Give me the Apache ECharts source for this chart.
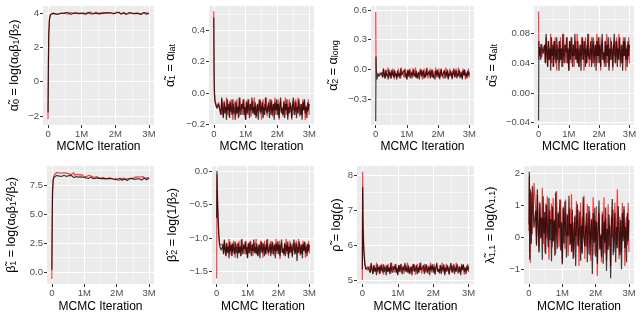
<!DOCTYPE html>
<html>
<head>
<meta charset="utf-8">
<script src="https://cdn.jsdelivr.net/npm/echarts@6/dist/echarts.min.js"></script>
<style>html,body{margin:0;padding:0;background:#fff}#chart{width:640px;height:320px}</style>
</head>
<body>
<div id="chart"></div>
<script>
// MCMC iteration (millions) at which each trace value is read
var iters = [0, 0.01, 0.02, 0.04, 0.07, 0.1, 0.15,
  0.2, 0.225, 0.25, 0.275, 0.3, 0.325, 0.35, 0.375, 0.4, 0.425,
  0.45, 0.475, 0.5, 0.525, 0.55, 0.575, 0.6, 0.625, 0.65, 0.675,
  0.7, 0.725, 0.75, 0.775, 0.8, 0.825, 0.85, 0.875, 0.9, 0.925,
  0.95, 0.975, 1.0, 1.025, 1.05, 1.075, 1.1, 1.125, 1.15, 1.175,
  1.2, 1.225, 1.25, 1.275, 1.3, 1.325, 1.35, 1.375, 1.4, 1.425,
  1.45, 1.475, 1.5, 1.525, 1.55, 1.575, 1.6, 1.625, 1.65, 1.675,
  1.7, 1.725, 1.75, 1.775, 1.8, 1.825, 1.85, 1.875, 1.9, 1.925,
  1.95, 1.975, 2.0, 2.025, 2.05, 2.075, 2.1, 2.125, 2.15, 2.175,
  2.2, 2.225, 2.25, 2.275, 2.3, 2.325, 2.35, 2.375, 2.4, 2.425,
  2.45, 2.475, 2.5, 2.525, 2.55, 2.575, 2.6, 2.625, 2.65, 2.675,
  2.7, 2.725, 2.75, 2.775, 2.8, 2.825, 2.85, 2.875, 2.9, 2.925,
  2.95, 2.975, 3.0];
var xTicks = [0, 1, 2, 3];
var xTickLabels = ['0', '1M', '2M', '3M'];

var alpha0Red = [-2.2, 0.4, 2.6, 3.6, 3.92, 3.98, 4.01,
  4.03, 3.97, 4.06, 4.00, 3.96, 4.05, 4.01, 3.99, 4.07, 3.97,
  4.02, 3.96, 4.05, 3.99, 4.06, 4.00, 3.95, 4.03, 4.01, 4.05,
  3.97, 4.06, 3.99, 4.02, 3.96, 4.07, 4.00, 4.03, 3.97, 4.01,
  4.06, 3.99, 3.95, 4.05, 4.02, 3.97, 4.06, 4.00, 4.03, 3.96,
  4.01, 4.05, 3.99, 4.07, 3.97, 4.02, 3.96, 4.03, 4.00, 4.06,
  3.99, 4.05, 3.95, 4.01, 4.06, 3.97, 4.03, 4.00, 4.07, 3.96,
  4.02, 3.99, 4.06, 3.97, 4.01, 4.05, 3.96, 4.03, 4.00, 4.07,
  3.97, 4.03, 4.00, 4.06, 3.95, 4.02, 4.05, 3.99, 4.01, 3.96,
  4.05, 4.00, 4.07, 3.97, 4.03, 3.96, 4.01, 4.06, 3.99, 4.02,
  3.95, 4.03, 4.00, 4.05, 3.97, 4.06, 4.02, 3.99, 4.07, 4.00,
  3.96, 4.03, 4.01, 3.97, 4.06, 4.00, 4.05, 3.95, 4.02, 4.03,
  3.99, 4.06, 3.97];
var alpha0Black = [-1.8, 0.9, 2.8, 3.65, 3.93, 3.99, 4.00,
  4.02, 3.96, 4.06, 4.00, 3.95, 4.04, 3.98, 4.01, 3.94, 4.05,
  3.99, 4.02, 3.95, 4.04, 4.00, 3.96, 4.05, 3.98, 4.01, 3.94,
  4.04, 3.98, 4.01, 3.95, 4.06, 3.99, 3.96, 4.02, 4.00, 4.05,
  3.96, 4.01, 3.94, 4.04, 3.98, 4.05, 4.00, 3.95, 4.02, 3.99,
  4.06, 3.98, 4.01, 3.96, 4.04, 3.95, 3.99, 4.02, 3.94, 4.01,
  4.05, 3.98, 4.00, 4.04, 3.95, 4.01, 3.96, 4.06, 3.99, 3.98,
  3.98, 4.04, 3.95, 4.01, 4.05, 3.96, 4.00, 4.02, 3.94, 4.04,
  3.99, 4.05, 3.96, 4.02, 3.95, 4.01, 4.06, 3.98, 4.00, 3.96,
  4.04, 3.95, 4.02, 3.99, 4.05, 3.94, 4.01, 3.98, 4.04, 4.00,
  3.95, 4.02, 4.06, 3.96, 3.99, 4.04, 3.95, 4.01, 3.98, 4.05,
  4.00, 3.96, 4.02, 3.94, 4.04, 3.99, 4.05, 3.98, 4.01, 3.95,
  4.04, 3.99, 4.02];

var alpha1Red = [0.52, 0.18, 0.02, -0.05, -0.07, -0.09, -0.06,
  -0.07, -0.14, -0.04, -0.11, -0.15, -0.05, -0.09, -0.12, -0.03, -0.14,
  -0.08, -0.15, -0.05, -0.12, -0.04, -0.11, -0.17, -0.07, -0.09, -0.05,
  -0.14, -0.04, -0.12, -0.08, -0.15, -0.03, -0.11, -0.07, -0.14, -0.09,
  -0.04, -0.12, -0.17, -0.05, -0.08, -0.14, -0.04, -0.11, -0.07, -0.15,
  -0.09, -0.05, -0.12, -0.03, -0.14, -0.08, -0.15, -0.07, -0.11, -0.04,
  -0.12, -0.05, -0.17, -0.09, -0.04, -0.14, -0.07, -0.11, -0.03, -0.15,
  -0.08, -0.12, -0.04, -0.14, -0.09, -0.05, -0.15, -0.07, -0.11, -0.03,
  -0.14, -0.07, -0.11, -0.04, -0.17, -0.08, -0.05, -0.12, -0.09, -0.15,
  -0.05, -0.11, -0.03, -0.14, -0.07, -0.15, -0.09, -0.04, -0.12, -0.08,
  -0.17, -0.07, -0.11, -0.05, -0.14, -0.04, -0.08, -0.12, -0.03, -0.11,
  -0.15, -0.07, -0.09, -0.14, -0.04, -0.11, -0.05, -0.17, -0.08, -0.07,
  -0.12, -0.04, -0.14];
var alpha1Black = [0.48, 0.12, -0.01, -0.06, -0.08, -0.10, -0.07,
  -0.07, -0.14, -0.03, -0.10, -0.16, -0.06, -0.13, -0.09, -0.17, -0.04,
  -0.11, -0.07, -0.16, -0.06, -0.10, -0.14, -0.04, -0.13, -0.09, -0.17,
  -0.06, -0.13, -0.09, -0.16, -0.03, -0.11, -0.14, -0.07, -0.10, -0.04,
  -0.14, -0.09, -0.17, -0.06, -0.13, -0.04, -0.10, -0.16, -0.07, -0.11,
  -0.03, -0.13, -0.09, -0.14, -0.06, -0.16, -0.11, -0.07, -0.17, -0.09,
  -0.04, -0.13, -0.10, -0.06, -0.16, -0.09, -0.14, -0.03, -0.11, -0.13,
  -0.13, -0.06, -0.16, -0.09, -0.04, -0.14, -0.10, -0.07, -0.17, -0.06,
  -0.11, -0.04, -0.14, -0.07, -0.16, -0.09, -0.03, -0.13, -0.10, -0.14,
  -0.06, -0.16, -0.07, -0.11, -0.04, -0.17, -0.09, -0.13, -0.06, -0.10,
  -0.16, -0.07, -0.03, -0.14, -0.11, -0.06, -0.16, -0.09, -0.13, -0.04,
  -0.10, -0.14, -0.07, -0.17, -0.06, -0.11, -0.04, -0.13, -0.09, -0.16,
  -0.06, -0.11, -0.07];

var alpha2Red = [0.58, 0.05, -0.03, -0.05, -0.02, -0.06, -0.03,
  -0.02, -0.08, 0.01, -0.05, -0.09, 0.00, -0.04, -0.06, 0.02, -0.08,
  -0.03, -0.09, 0.00, -0.06, 0.01, -0.05, -0.10, -0.02, -0.04, 0.00,
  -0.08, 0.01, -0.06, -0.03, -0.09, 0.02, -0.05, -0.02, -0.08, -0.04,
  0.01, -0.06, -0.10, 0.00, -0.03, -0.08, 0.01, -0.05, -0.02, -0.09,
  -0.04, 0.00, -0.06, 0.02, -0.08, -0.03, -0.09, -0.02, -0.05, 0.01,
  -0.06, 0.00, -0.10, -0.04, 0.01, -0.08, -0.02, -0.05, 0.02, -0.09,
  -0.03, -0.06, 0.01, -0.08, -0.04, 0.00, -0.09, -0.02, -0.05, 0.02,
  -0.08, -0.02, -0.05, 0.01, -0.10, -0.03, 0.00, -0.06, -0.04, -0.09,
  0.00, -0.05, 0.02, -0.08, -0.02, -0.09, -0.04, 0.01, -0.06, -0.03,
  -0.10, -0.02, -0.05, 0.00, -0.08, 0.01, -0.03, -0.06, 0.02, -0.05,
  -0.09, -0.02, -0.04, -0.08, 0.01, -0.05, 0.00, -0.10, -0.03, -0.02,
  -0.06, 0.01, -0.08];
var alpha2Black = [-0.52, 0.13, -0.06, -0.10, -0.04, -0.07, -0.05,
  -0.03, -0.08, 0.01, -0.05, -0.09, -0.01, -0.07, -0.04, -0.10, 0.00,
  -0.06, -0.03, -0.09, -0.01, -0.05, -0.08, 0.00, -0.07, -0.04, -0.10,
  -0.01, -0.07, -0.04, -0.09, 0.01, -0.06, -0.08, -0.03, -0.05, 0.00,
  -0.08, -0.04, -0.10, -0.01, -0.07, 0.00, -0.05, -0.09, -0.03, -0.06,
  0.01, -0.07, -0.04, -0.08, -0.01, -0.09, -0.06, -0.03, -0.10, -0.04,
  0.00, -0.07, -0.05, -0.01, -0.09, -0.04, -0.08, 0.01, -0.06, -0.07,
  -0.07, -0.01, -0.09, -0.04, 0.00, -0.08, -0.05, -0.03, -0.10, -0.01,
  -0.06, 0.00, -0.08, -0.03, -0.09, -0.04, 0.01, -0.07, -0.05, -0.08,
  -0.01, -0.09, -0.03, -0.06, 0.00, -0.10, -0.04, -0.07, -0.01, -0.05,
  -0.09, -0.03, 0.01, -0.08, -0.06, -0.01, -0.09, -0.04, -0.07, 0.00,
  -0.05, -0.08, -0.03, -0.10, -0.01, -0.06, 0.00, -0.07, -0.04, -0.09,
  -0.01, -0.06, -0.03];

var alpha3Red = [0.110, 0.045, 0.060, 0.052, 0.066, 0.048, 0.058,
  0.065, 0.040, 0.075, 0.050, 0.035, 0.070, 0.055, 0.045, 0.080, 0.040,
  0.060, 0.035, 0.070, 0.045, 0.075, 0.050, 0.030, 0.065, 0.055, 0.070,
  0.040, 0.075, 0.045, 0.060, 0.035, 0.080, 0.050, 0.065, 0.040, 0.055,
  0.075, 0.045, 0.030, 0.070, 0.060, 0.040, 0.075, 0.050, 0.065, 0.035,
  0.055, 0.070, 0.045, 0.080, 0.040, 0.060, 0.035, 0.065, 0.050, 0.075,
  0.045, 0.070, 0.030, 0.055, 0.075, 0.040, 0.065, 0.050, 0.080, 0.035,
  0.060, 0.045, 0.075, 0.040, 0.055, 0.070, 0.035, 0.065, 0.050, 0.080,
  0.040, 0.065, 0.050, 0.075, 0.030, 0.060, 0.070, 0.045, 0.055, 0.035,
  0.070, 0.050, 0.080, 0.040, 0.065, 0.035, 0.055, 0.075, 0.045, 0.060,
  0.030, 0.065, 0.050, 0.070, 0.040, 0.075, 0.060, 0.045, 0.080, 0.050,
  0.035, 0.065, 0.055, 0.040, 0.075, 0.050, 0.070, 0.030, 0.060, 0.065,
  0.045, 0.075, 0.040];
var alpha3Black = [-0.037, 0.070, 0.050, 0.062, 0.045, 0.066, 0.053,
  0.065, 0.040, 0.080, 0.055, 0.035, 0.070, 0.045, 0.060, 0.030, 0.075,
  0.050, 0.065, 0.035, 0.070, 0.055, 0.040, 0.075, 0.045, 0.060, 0.030,
  0.070, 0.045, 0.060, 0.035, 0.080, 0.050, 0.040, 0.065, 0.055, 0.075,
  0.040, 0.060, 0.030, 0.070, 0.045, 0.075, 0.055, 0.035, 0.065, 0.050,
  0.080, 0.045, 0.060, 0.040, 0.070, 0.035, 0.050, 0.065, 0.030, 0.060,
  0.075, 0.045, 0.055, 0.070, 0.035, 0.060, 0.040, 0.080, 0.050, 0.045,
  0.045, 0.070, 0.035, 0.060, 0.075, 0.040, 0.055, 0.065, 0.030, 0.070,
  0.050, 0.075, 0.040, 0.065, 0.035, 0.060, 0.080, 0.045, 0.055, 0.040,
  0.070, 0.035, 0.065, 0.050, 0.075, 0.030, 0.060, 0.045, 0.070, 0.055,
  0.035, 0.065, 0.080, 0.040, 0.050, 0.070, 0.035, 0.060, 0.045, 0.075,
  0.055, 0.040, 0.065, 0.030, 0.070, 0.050, 0.075, 0.045, 0.060, 0.035,
  0.070, 0.050, 0.065];

var beta1Red = [-0.6, 3.5, 6.6, 7.9, 8.35, 8.5, 8.58,
  8.64, 8.54, 8.68, 8.58, 8.52, 8.66, 8.60, 8.56, 8.70, 8.54,
  8.52, 8.42, 8.56, 8.46, 8.58, 8.48, 8.40, 8.54, 8.50, 8.56,
  8.34, 8.48, 8.36, 8.42, 8.32, 8.50, 8.38, 8.44, 8.34, 8.40,
  8.38, 8.26, 8.20, 8.36, 8.32, 8.24, 8.38, 8.28, 8.34, 8.22,
  8.20, 8.26, 8.16, 8.30, 8.14, 8.22, 8.12, 8.24, 8.18, 8.28,
  8.06, 8.16, 8.00, 8.10, 8.18, 8.04, 8.14, 8.08, 8.20, 8.02,
  8.04, 7.98, 8.10, 7.96, 8.02, 8.08, 7.94, 8.06, 8.00, 8.12,
  7.94, 8.04, 7.98, 8.08, 7.90, 8.02, 8.06, 7.96, 8.00, 7.92,
  8.11, 8.03, 8.15, 7.99, 8.09, 7.97, 8.05, 8.13, 8.01, 8.07,
  8.00, 8.14, 8.08, 8.16, 8.04, 8.18, 8.12, 8.06, 8.20, 8.08,
  8.07, 8.19, 8.15, 8.09, 8.23, 8.13, 8.21, 8.05, 8.17, 8.19,
  8.14, 8.26, 8.12];
var beta1Black = [0.2, 4.2, 7.0, 8.0, 8.2, 8.3, 8.33,
  8.36, 8.26, 8.42, 8.32, 8.24, 8.38, 8.28, 8.34, 8.22, 8.40,
  8.23, 8.29, 8.17, 8.31, 8.25, 8.19, 8.33, 8.21, 8.27, 8.15,
  8.26, 8.16, 8.22, 8.12, 8.30, 8.18, 8.14, 8.24, 8.20, 8.28,
  8.09, 8.17, 8.05, 8.21, 8.11, 8.23, 8.15, 8.07, 8.19, 8.13,
  8.20, 8.06, 8.12, 8.04, 8.16, 8.02, 8.08, 8.14, 8.00, 8.12,
  8.13, 8.01, 8.05, 8.11, 7.97, 8.07, 7.99, 8.15, 8.03, 8.01,
  7.96, 8.06, 7.92, 8.02, 8.08, 7.94, 8.00, 8.04, 7.90, 8.06,
  7.96, 8.06, 7.92, 8.02, 7.90, 8.00, 8.08, 7.94, 7.98, 7.92,
  8.05, 7.91, 8.03, 7.97, 8.07, 7.89, 8.01, 7.95, 8.05, 7.99,
  7.93, 8.05, 8.11, 7.95, 7.99, 8.07, 7.93, 8.03, 7.97, 8.09,
  8.03, 7.97, 8.07, 7.93, 8.09, 8.01, 8.11, 7.99, 8.05, 7.95,
  8.11, 8.03, 8.09];

var beta2Red = [-1.6, -0.05, -0.3, -0.65, -0.98, -1.1, -1.08,
  -1.09, -1.23, -1.04, -1.18, -1.26, -1.07, -1.15, -1.21, -1.01, -1.23,
  -1.12, -1.26, -1.07, -1.21, -1.04, -1.18, -1.29, -1.09, -1.15, -1.07,
  -1.23, -1.04, -1.21, -1.12, -1.26, -1.01, -1.18, -1.09, -1.23, -1.15,
  -1.04, -1.21, -1.29, -1.07, -1.12, -1.23, -1.04, -1.18, -1.09, -1.26,
  -1.15, -1.07, -1.21, -1.01, -1.23, -1.12, -1.26, -1.09, -1.18, -1.04,
  -1.21, -1.07, -1.29, -1.15, -1.04, -1.23, -1.09, -1.18, -1.01, -1.26,
  -1.12, -1.21, -1.04, -1.23, -1.15, -1.07, -1.26, -1.09, -1.18, -1.01,
  -1.23, -1.09, -1.18, -1.04, -1.31, -1.12, -1.07, -1.21, -1.15, -1.26,
  -1.07, -1.18, -1.01, -1.23, -1.09, -1.26, -1.15, -1.04, -1.21, -1.12,
  -1.29, -1.09, -1.18, -1.07, -1.23, -1.04, -1.12, -1.21, -1.01, -1.18,
  -1.26, -1.09, -1.15, -1.23, -1.04, -1.18, -1.07, -1.29, -1.12, -1.09,
  -1.21, -1.04, -1.23];
var beta2Black = [-0.7, 0.0, -0.25, -0.6, -0.95, -1.12, -1.18,
  -1.10, -1.24, -1.02, -1.16, -1.27, -1.08, -1.22, -1.13, -1.30, -1.05,
  -1.19, -1.10, -1.27, -1.08, -1.16, -1.24, -1.05, -1.22, -1.13, -1.30,
  -1.08, -1.22, -1.13, -1.27, -1.02, -1.19, -1.24, -1.10, -1.16, -1.05,
  -1.24, -1.13, -1.30, -1.08, -1.22, -1.05, -1.16, -1.27, -1.10, -1.19,
  -1.02, -1.22, -1.13, -1.24, -1.08, -1.27, -1.19, -1.10, -1.30, -1.13,
  -1.05, -1.22, -1.16, -1.08, -1.27, -1.13, -1.24, -1.02, -1.19, -1.22,
  -1.22, -1.08, -1.27, -1.13, -1.05, -1.24, -1.16, -1.10, -1.30, -1.08,
  -1.19, -1.05, -1.24, -1.10, -1.27, -1.13, -1.02, -1.22, -1.16, -1.24,
  -1.08, -1.27, -1.10, -1.19, -1.05, -1.30, -1.13, -1.22, -1.08, -1.16,
  -1.27, -1.10, -1.02, -1.24, -1.19, -1.08, -1.34, -1.13, -1.22, -1.05,
  -1.16, -1.24, -1.10, -1.30, -1.08, -1.19, -1.05, -1.22, -1.13, -1.27,
  -1.08, -1.19, -1.10];

var rhoRed = [5.0, 8.1, 6.8, 6.0, 5.5, 5.35, 5.28,
  5.39, 5.22, 5.46, 5.29, 5.18, 5.43, 5.32, 5.25, 5.50, 5.22,
  5.36, 5.18, 5.43, 5.25, 5.46, 5.29, 5.15, 5.39, 5.32, 5.43,
  5.22, 5.46, 5.25, 5.36, 5.18, 5.50, 5.29, 5.39, 5.22, 5.32,
  5.46, 5.25, 5.15, 5.43, 5.36, 5.22, 5.46, 5.29, 5.39, 5.18,
  5.32, 5.43, 5.25, 5.50, 5.22, 5.36, 5.18, 5.39, 5.29, 5.46,
  5.25, 5.43, 5.15, 5.32, 5.46, 5.22, 5.39, 5.29, 5.50, 5.18,
  5.36, 5.25, 5.46, 5.22, 5.32, 5.43, 5.18, 5.39, 5.29, 5.50,
  5.22, 5.39, 5.29, 5.46, 5.15, 5.36, 5.43, 5.25, 5.32, 5.18,
  5.43, 5.29, 5.50, 5.22, 5.39, 5.18, 5.32, 5.46, 5.25, 5.36,
  5.15, 5.39, 5.29, 5.43, 5.22, 5.46, 5.36, 5.25, 5.50, 5.29,
  5.18, 5.39, 5.32, 5.22, 5.46, 5.29, 5.43, 5.15, 5.36, 5.39,
  5.25, 5.46, 5.22];
var rhoBlack = [5.3, 7.65, 6.5, 5.85, 5.45, 5.3, 5.38,
  5.38, 5.21, 5.49, 5.31, 5.17, 5.42, 5.24, 5.35, 5.14, 5.45,
  5.28, 5.38, 5.17, 5.42, 5.31, 5.21, 5.45, 5.24, 5.35, 5.14,
  5.42, 5.24, 5.35, 5.17, 5.49, 5.28, 5.21, 5.38, 5.31, 5.45,
  5.21, 5.35, 5.14, 5.42, 5.24, 5.45, 5.31, 5.17, 5.38, 5.28,
  5.49, 5.24, 5.35, 5.21, 5.42, 5.17, 5.28, 5.38, 5.14, 5.35,
  5.45, 5.24, 5.31, 5.42, 5.17, 5.35, 5.21, 5.49, 5.28, 5.24,
  5.24, 5.42, 5.17, 5.35, 5.45, 5.21, 5.31, 5.38, 5.14, 5.42,
  5.28, 5.45, 5.21, 5.38, 5.17, 5.35, 5.49, 5.24, 5.31, 5.21,
  5.42, 5.17, 5.38, 5.28, 5.45, 5.14, 5.35, 5.24, 5.42, 5.31,
  5.17, 5.38, 5.49, 5.21, 5.28, 5.42, 5.17, 5.35, 5.24, 5.45,
  5.31, 5.21, 5.38, 5.14, 5.42, 5.28, 5.45, 5.24, 5.35, 5.17,
  5.42, 5.28, 5.38];

var lambdaRed = [0.2, 1.9, 0.6, -0.8, 1.4, 0.1, 1.7,
  0.89, -0.21, 1.33, 0.23, -0.43, 1.11, 0.45, 0.01, 1.55, -0.21,
  0.62, -0.48, 1.06, -0.04, 1.28, 0.18, -0.70, 0.84, 0.40, 1.06,
  -0.31, 1.23, -0.09, 0.57, -0.53, 1.45, 0.13, 0.79, -0.31, 0.35,
  1.18, -0.14, -0.80, 0.96, 0.52, -0.36, 1.18, 0.08, 0.74, -0.58,
  0.25, 0.91, -0.19, 1.35, -0.41, 0.47, -0.63, 0.69, 0.03, 1.13,
  -0.24, 0.86, -0.90, 0.20, 1.08, -0.46, 0.64, -0.02, 1.30, -0.68,
  0.37, -0.29, 1.03, -0.51, 0.15, 0.81, -0.73, 0.59, -0.07, 1.25,
  -0.56, 0.54, -0.12, 0.98, -1.20, 0.32, 0.76, -0.34, 0.10, -0.78,
  0.81, -0.07, 1.25, -0.51, 0.59, -0.73, 0.15, 1.03, -0.29, 0.37,
  -0.90, 0.64, -0.02, 0.86, -0.46, 1.08, 0.42, -0.24, 1.50, -0.02,
  -0.68, 0.64, 0.20, -0.46, 1.08, -0.02, 0.86, -0.90, 0.42, 0.64,
  -0.24, 1.08, -0.46];
var lambdaBlack = [0.4, 2.05, -0.7, 1.5, -0.2, 1.6, 0.3,
  0.84, -0.26, 1.50, 0.40, -0.48, 1.06, -0.04, 0.62, -0.70, 1.28,
  0.13, 0.79, -0.53, 1.01, 0.35, -0.31, 1.23, -0.09, 0.57, -0.75,
  0.96, -0.14, 0.52, -0.58, 1.40, 0.08, -0.36, 0.74, 0.30, 1.18,
  -0.41, 0.47, -0.85, 0.91, -0.19, 1.13, 0.25, -0.63, 0.69, 0.03,
  1.30, -0.24, 0.42, -0.46, 0.86, -0.68, -0.02, 0.64, -0.90, 0.42,
  1.03, -0.29, 0.15, 0.81, -0.73, 0.37, -0.51, 1.25, -0.07, -0.29,
  -0.34, 0.76, -0.78, 0.32, 0.98, -0.56, 0.10, 0.54, -1.15, 0.76,
  -0.17, 0.93, -0.61, 0.49, -0.83, 0.27, 1.15, -0.39, 0.05, -0.61,
  0.71, -0.83, 0.49, -0.17, 0.93, -1.05, 0.27, -0.39, 0.71, 0.05,
  -1.28, 0.54, 1.20, -0.56, -0.12, 0.76, -0.78, 0.32, -0.34, 0.98,
  0.10, -0.56, 0.54, -1.00, 0.76, -0.12, 0.98, -0.34, 0.32, -0.78,
  0.76, -0.12, 0.54];

var alpha0Ticks = [-2, 0, 2, 4];
var alpha1Ticks = [-0.2, 0, 0.2, 0.4];
var alpha2Ticks = [-0.3, 0, 0.3, 0.6];
var alpha3Ticks = [-0.04, 0, 0.04, 0.08];
var beta1Ticks = [0, 2.5, 5, 7.5];
var beta2Ticks = [-1.5, -1, -0.5, 0];
var rhoTicks = [5, 6, 7, 8];
var lambdaTicks = [-1, 0, 1, 2];

var panels = [
  {box: [43, 6, 111, 119], y: [-2.53, 4.43], ticks: alpha0Ticks, minor: [-1, 1, 3], dec: 0, gap: 22,
   name: '{t|α̃}{s|0}{t| = log(α}{s|0}{t|β}{s|1}{t|/β}{s|2}{t|)}', red: alpha0Red, black: alpha0Black},
  {box: [209, 6, 105, 119], y: [-0.204, 0.553], ticks: alpha1Ticks, minor: [-0.1, 0.1, 0.3, 0.5], dec: 1, gap: 32,
   name: '{t|α̃}{s|1}{t| = α}{s|lat}', red: alpha1Red, black: alpha1Black},
  {box: [371, 6, 103, 119], y: [-0.559, 0.64], ticks: alpha2Ticks, minor: [-0.45, -0.15, 0.15, 0.45], dec: 1, gap: 31,
   name: '{t|α̃}{s|2}{t| = α}{s|long}', red: alpha2Red, black: alpha2Black},
  {box: [534, 6, 100, 119], y: [-0.0431, 0.1173], ticks: alpha3Ticks, minor: [-0.02, 0.02, 0.06, 0.1], dec: 2, gap: 35,
   name: '{t|α̃}{s|3}{t| = α}{s|alt}', red: alpha3Red, black: alpha3Black},
  {box: [47, 166, 107, 118], y: [-1.03, 9.14], ticks: beta1Ticks, minor: [1.25, 3.75, 6.25, 8.75], dec: 1, gap: 29,
   name: '{t|β̃}{s|1}{t| = log(α}{s|0}{t|β}{s|1}{t|²/β}{s|2}{t|)}', red: beta1Red, black: beta1Black},
  {box: [212, 166, 102, 118], y: [-1.683, 0.0745], ticks: beta2Ticks, minor: [-1.25, -0.75, -0.25], dec: 1, gap: 33,
   name: '{t|β̃}{s|2}{t| = log(1/β}{s|2}{t|)}', red: beta2Red, black: beta2Black},
  {box: [357, 166, 117, 118], y: [4.886, 8.257], ticks: rhoTicks, minor: [5.5, 6.5, 7.5], dec: 0, gap: 14,
   name: '{t|ρ̃ = log(ρ)}', red: rhoRed, black: rhoBlack},
  {box: [524, 166, 110, 118], y: [-1.46, 2.23], ticks: lambdaTicks, minor: [-0.5, 0.5, 1.5], dec: 0, gap: 27,
   name: '{t|λ̃}{s|1,1}{t| = log(λ}{s|1,1}{t|)}', red: lambdaRed, black: lambdaBlack}
];

function fmtTick(v, d) {
  return (v < 0 ? '\u2212' : '') + Math.abs(v).toFixed(d);
}
function pairs(arr) {
  return iters.map(function (x, i) { return [x, arr[i]]; });
}

var font = 'Liberation Sans';
var rich = {
  t: {fontSize: 12.5, fontFamily: font, color: '#000', verticalAlign: 'middle'},
  s: {fontSize: 9, fontFamily: font, color: '#000', verticalAlign: 'bottom'}
};
var option = {animation: false, grid: [], xAxis: [], yAxis: [], series: []};

panels.forEach(function (p, k) {
  var row2 = k >= 4;
  option.grid.push({left: p.box[0], top: p.box[1], width: p.box[2], height: p.box[3],
    show: true, backgroundColor: '#EBEBEB', borderWidth: 0, outerBoundsMode: 'none'});
  option.xAxis.push({
    gridIndex: k, type: 'value', min: -0.15, max: 3.15,
    axisLine: {show: false, onZero: false},
    axisTick: {show: true, length: 3, lineStyle: {color: '#333', width: 1}, customValues: xTicks},
    axisLabel: {customValues: xTicks, color: '#4D4D4D', fontSize: 9.5, fontFamily: font, margin: 4,
      formatter: function (v) { return xTickLabels[xTicks.indexOf(v)]; }},
    splitLine: {show: true, lineStyle: {color: '#fff', width: 1.1}},
    name: 'MCMC Iteration', nameLocation: 'middle', nameGap: row2 ? 17 : 16,
    nameTextStyle: {fontSize: 12, fontFamily: font, color: '#000'}
  });
  option.xAxis.push({
    gridIndex: k, type: 'value', min: -0.15, max: 3.15, position: 'bottom',
    axisLine: {show: false, onZero: false}, axisTick: {show: false, customValues: [0.5, 1.5, 2.5]},
    axisLabel: {show: false, customValues: [0.5, 1.5, 2.5]},
    splitLine: {show: true, lineStyle: {color: '#fff', width: 0.5}}
  });
  option.yAxis.push({
    gridIndex: k, type: 'value', min: p.y[0], max: p.y[1],
    axisLine: {show: false, onZero: false},
    axisTick: {show: true, length: 3, lineStyle: {color: '#333', width: 1}, customValues: p.ticks},
    axisLabel: {customValues: p.ticks, color: '#4D4D4D', fontSize: 9.5, fontFamily: font, margin: 4,
      formatter: (function (d) { return function (v) { return fmtTick(v, d); }; })(p.dec)},
    splitLine: {show: true, lineStyle: {color: '#fff', width: 1.1}},
    name: p.name, nameLocation: 'middle', nameRotate: 90, nameGap: p.gap,
    nameTextStyle: {rich: rich}
  });
  option.yAxis.push({
    gridIndex: k, type: 'value', min: p.y[0], max: p.y[1], position: 'left',
    axisLine: {show: false, onZero: false}, axisTick: {show: false, customValues: p.minor},
    axisLabel: {show: false, customValues: p.minor},
    splitLine: {show: true, lineStyle: {color: '#fff', width: 0.5}}
  });
  option.series.push({
    type: 'line', xAxisIndex: 2 * k, yAxisIndex: 2 * k, data: pairs(p.red),
    showSymbol: false, symbol: 'none', lineStyle: {color: '#FF0000', width: 1.2, opacity: 0.75}
  });
  option.series.push({
    type: 'line', xAxisIndex: 2 * k, yAxisIndex: 2 * k, data: pairs(p.black),
    showSymbol: false, symbol: 'none', lineStyle: {color: '#000000', width: 1.2, opacity: 0.75}
  });
});

var chart = echarts.init(document.getElementById('chart'), null, {renderer: 'canvas'});
chart.setOption(option);
</script>
</body>
</html>
